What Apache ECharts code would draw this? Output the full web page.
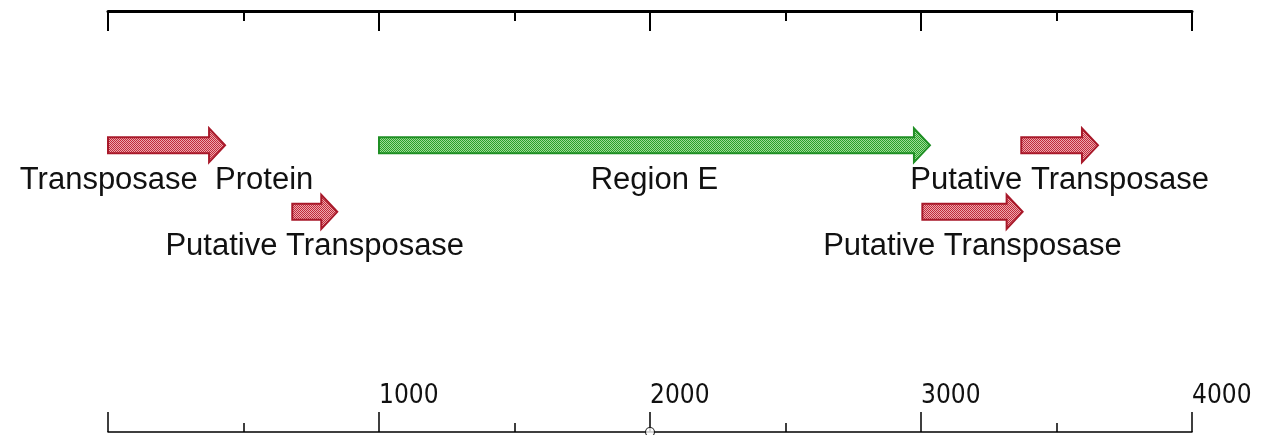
<!DOCTYPE html>
<html>
<head>
<meta charset="utf-8">
<script src="https://cdn.jsdelivr.net/npm/echarts@6/dist/echarts.min.js"></script>
<style>
html,body{margin:0;padding:0;background:#fff;}
#chart{width:1265px;height:435px;}
</style>
</head>
<body>
<div id="chart"></div>
<script>
// ---- data ----
const featureNames  = ['Transposase  Protein', 'Putative Transposase', 'Region E', 'Putative Transposase', 'Putative Transposase'];
const featureStart  = [0, 680, 1000, 3370, 3005];
const featureEnd    = [432, 846, 3033, 3653, 3375];
const featureTrack  = [1, 2, 1, 1, 2];
const featureKind   = ['transposase', 'transposase', 'region', 'transposase', 'transposase'];
const axisMin = 0, axisMax = 4000, majorStep = 1000;
const tickLabelValues = [1000, 2000, 3000, 4000];
const markerPositions = [2000];

// ---- styles ----
function makePattern(dark, light) {
  const c = document.createElement('canvas');
  c.width = 2; c.height = 2;
  const g = c.getContext('2d');
  g.fillStyle = light; g.fillRect(0, 0, 2, 2);
  g.fillStyle = dark; g.fillRect(0, 0, 1, 1); g.fillRect(1, 1, 1, 1);
  return { image: c, repeat: 'repeat' };
}
const kindStyle = {
  transposase: { fill: makePattern('#c02a3a', '#eea8ae'), stroke: '#a8192a' },
  region:      { fill: makePattern('#2a9f2a', '#9edc98'), stroke: '#1f8f24' }
};

const featureData = featureNames.map((n, i) => [featureStart[i], featureEnd[i], featureTrack[i], i]);

const chart = echarts.init(document.getElementById('chart'), null, { renderer: 'canvas' });
chart.setOption({
  animation: false,
  backgroundColor: '#fff',
  grid: { left: 108, right: 73, top: 11, bottom: 3 },
  xAxis: [
    {
      type: 'value', position: 'top', min: axisMin, max: axisMax, interval: majorStep,
      axisLine: { show: true, onZero: false, lineStyle: { color: '#000', width: 3 } },
      axisTick: { show: true, inside: true, length: 20, lineStyle: { color: '#000', width: 2 } },
      minorTick: { show: true, splitNumber: 2, length: 10, lineStyle: { color: '#000', width: 2 } },
      axisLabel: { show: false },
      splitLine: { show: false }
    },
    {
      type: 'value', position: 'bottom', min: axisMin, max: axisMax, interval: majorStep,
      axisLine: { show: true, onZero: false, lineStyle: { color: '#000', width: 1.5 } },
      axisTick: { show: true, inside: true, length: 20, lineStyle: { color: '#000', width: 1.5 } },
      minorTick: { show: true, splitNumber: 2, length: 9, lineStyle: { color: '#000', width: 1.5 } },
      axisLabel: {
        show: true, inside: true, margin: 23, align: 'left',
        color: '#111', fontSize: 26,
        fontFamily: "'Liberation Sans Narrow', 'DejaVu Sans Condensed', 'Liberation Sans', Arial, sans-serif",
        formatter: v => tickLabelValues.indexOf(v) >= 0 ? String(v) : ''
      },
      splitLine: { show: false }
    }
  ],
  yAxis: { type: 'value', inverse: true, min: -1.02, max: 5.31, show: false },
  series: [
    {
      type: 'custom',
      xAxisIndex: 0,
      clip: false,
      data: featureData,
      renderItem: function (params, api) {
        const s = api.coord([api.value(0), api.value(2)]);
        const e = api.coord([api.value(1), api.value(2)]);
        const idx = api.value(3);
        const st = kindStyle[featureKind[idx]];
        const y = s[1];
        const x0 = s[0], x1 = e[0];
        const head = 16, bh = 8, hh = 17;
        const xb = x1 - head;
        return {
          type: 'group',
          children: [
            {
              type: 'polygon',
              shape: { points: [[x0, y - bh], [xb, y - bh], [xb, y - hh], [x1, y], [xb, y + hh], [xb, y + bh], [x0, y + bh]] },
              style: { fill: st.fill, stroke: st.stroke, lineWidth: 2 }
            },
            {
              type: 'text',
              x: (x0 + x1) / 2, y: y + 35,
              style: {
                text: featureNames[idx], fill: '#111',
                font: "31px 'Liberation Sans', Arial, sans-serif",
                align: 'center', verticalAlign: 'middle'
              }
            }
          ]
        };
      }
    },
    {
      type: 'scatter',
      xAxisIndex: 1,
      clip: false,
      data: markerPositions.map(v => [v, 5.31]),
      symbol: 'circle', symbolSize: 9,
      itemStyle: { color: '#fff', borderColor: '#000', borderWidth: 1.2 },
      z: 5
    }
  ]
});
</script>
</body>
</html>
